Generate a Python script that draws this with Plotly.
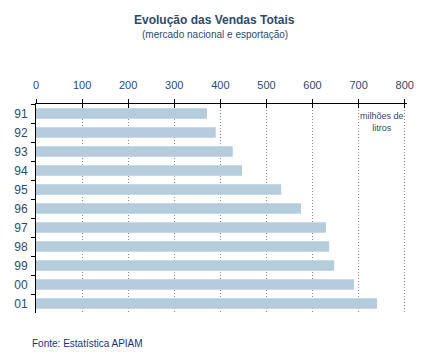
import plotly.graph_objects as go

years = ["91", "92", "93", "94", "95", "96", "97", "98", "99", "00", "01"]
sales = [371, 390, 427, 447, 532, 575, 629, 636, 647, 690, 740]
x_ticks = [0, 100, 200, 300, 400, 500, 600, 700, 800]

text_col = "#2E4A6B"
bar_col = "#B4CCDB"

fig = go.Figure()
fig.add_trace(go.Bar(
    x=sales, y=years, orientation="h",
    marker=dict(color=bar_col, line=dict(width=0)),
    hoverinfo="x+y",
))
fig.add_trace(go.Scatter(x=[None], y=[None], xaxis="x2", yaxis="y", showlegend=False))

# page body has an 8px margin, so the figure is sized/placed to compensate
fig.update_layout(
    width=406, height=340,
    margin=dict(l=28, r=7, t=96, b=35, autoexpand=False),
    paper_bgcolor="white", plot_bgcolor="white",
    showlegend=False,
    bargap=0.46,
    font=dict(family="Liberation Sans, Arial, sans-serif", color=text_col),
    xaxis=dict(
        side="top", range=[0, 805], tickvals=x_ticks,
        showline=True, linecolor="black", linewidth=1,
        ticks="outside", ticklen=4, tickcolor="black",
        showgrid=True, gridcolor="#8A8A8A", griddash="1px,2px", gridwidth=1,
        zeroline=False, automargin=False,
        tickfont=dict(size=11, color=text_col),
        ticklabelstandoff=6,
        fixedrange=True,
    ),
    xaxis2=dict(
        overlaying="x", side="top", range=[0, 805], tickvals=x_ticks,
        ticks="inside", ticklen=4, tickcolor="black", automargin=False,
        showticklabels=False, showgrid=False, zeroline=False, showline=False,
    ),
    yaxis=dict(
        type="category", categoryorder="array", categoryarray=years,
        autorange="reversed", automargin=False,
        showline=True, linecolor="black", linewidth=1,
        ticks="outside", ticklen=4, tickcolor="black", tickson="boundaries",
        showgrid=False, zeroline=False,
        tickfont=dict(size=12, color=text_col),
        ticklabelstandoff=5,
    ),
    annotations=[
        dict(text="<b>Evolução das Vendas Totais</b>", xref="paper", yref="paper",
             x=0.482, y=1.0, yshift=84, xanchor="center", yanchor="middle",
             showarrow=False, font=dict(size=12, color=text_col)),
        dict(text="(mercado nacional e esportação)", xref="paper", yref="paper",
             x=0.482, y=1.0, yshift=70, xanchor="center", yanchor="middle",
             showarrow=False, font=dict(size=10, color=text_col)),
        dict(text="milhões de<br>litros", xref="x", yref="y",
             x=750, y=0.47, xanchor="center", yanchor="middle",
             showarrow=False, font=dict(size=9, color=text_col)),
        dict(text="Fonte: Estatística APIAM", xref="paper", yref="paper",
             x=-0.015, y=0, yshift=-30, xanchor="left", yanchor="middle",
             showarrow=False, font=dict(size=10, color="#1B2F7D")),
    ],
)

fig.write_html("out.html")
